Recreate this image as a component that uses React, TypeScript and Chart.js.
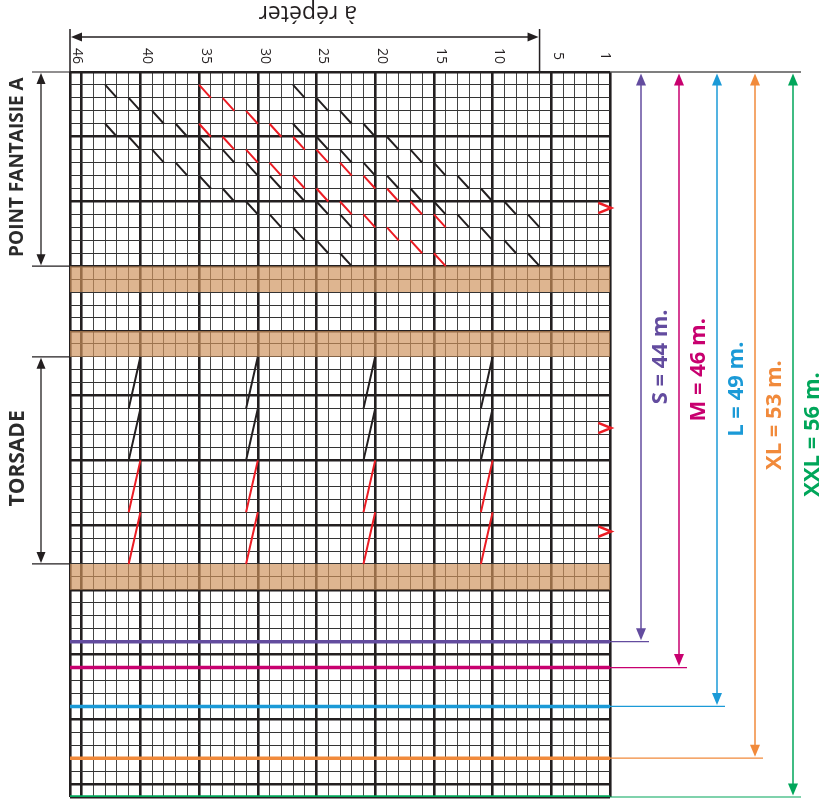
import React, { useEffect, useRef } from 'react';
import { Chart, registerables } from 'chart.js';

Chart.register(...registerables);

// ---------- data ----------
const STITCH_COUNT = 46;
const ROW_COUNT = 56;

const stitchTickLabels = [46, 40, 35, 30, 25, 20, 15, 10, 5, 1];
const repeatStitches = [46, 7];
const repeatLabel = 'à répéter';

const sectionLabels = ['POINT FANTAISIE A', 'TORSADE'];
const sectionStartRows = [0, 22];
const sectionEndRows = [15, 38];

const bandStartRows = [15, 20, 38];
const bandEndRows = [17, 22, 40];

// "\" marks of point fantaisie A : [stitch, row from top]
const blackDiagonals: [number, number][] = [
  [43, 1], [41, 2], [39, 3], [37, 4], [35, 5], [33, 6], [31, 7], [29, 8], [27, 9], [25, 10], [23, 11],
  [43, 4], [41, 5], [39, 6], [37, 7], [35, 8], [33, 9], [31, 10], [29, 11], [27, 12], [25, 13], [23, 14],
  [27, 1], [25, 2], [23, 3], [21, 4], [19, 5], [17, 6], [15, 7], [13, 8], [11, 9], [9, 10], [7, 11],
  [27, 4], [25, 5], [23, 6], [21, 7], [19, 8], [17, 9], [15, 10], [13, 11], [11, 12], [9, 13], [7, 14],
];
const redDiagonals: [number, number][] = [
  [35, 1], [33, 2], [31, 3], [29, 4], [27, 5], [25, 6], [23, 7], [21, 8], [19, 9], [17, 10], [15, 11],
  [35, 4], [33, 5], [31, 6], [29, 7], [27, 8], [25, 9], [23, 10], [21, 11], [19, 12], [17, 13], [15, 14],
];

// torsade "/" marks: stitches and [startRow, endRow]
const torsadeStitches = [41, 31, 21, 11];
const blackTorsadeRows: [number, number][] = [[22, 26], [26, 30]];
const redTorsadeRows: [number, number][] = [[30, 34], [34, 38]];

const chevronStitch = 1;
const chevronRows = [10, 27, 35];

const sizeNames = ['S', 'M', 'L', 'XL', 'XXL'];
const sizeRows = [44, 46, 49, 53, 56];
const sizeColors = ['#634c9f', '#c8006f', '#1b9ad7', '#f18a3b', '#00a65a'];

// ---------- styles ----------
const INK = '#231f20';
const RED = '#ec1c24';
const TAN = 'rgba(206,146,92,0.68)';

type Pt = { x: number; y: number | null };

function diagSegments(list: [number, number][]): Pt[] {
  const out: Pt[] = [];
  list.forEach(([s, r]) => {
    out.push({ x: s, y: r }, { x: s - 1, y: r + 1 }, { x: s - 1, y: null });
  });
  return out;
}

function torsadeSegments(rows: [number, number][]): Pt[] {
  const out: Pt[] = [];
  torsadeStitches.forEach((s) => {
    rows.forEach(([r0, r1]) => {
      out.push({ x: s, y: r1 }, { x: s - 1, y: r0 }, { x: s - 1, y: null });
    });
  });
  return out;
}

function chevronPoints(): Pt[] {
  const out: Pt[] = [];
  chevronRows.forEach((r) => {
    out.push(
      { x: chevronStitch, y: r + 0.1 },
      { x: chevronStitch - 1.1, y: r + 0.5 },
      { x: chevronStitch, y: r + 0.9 },
      { x: chevronStitch, y: null }
    );
  });
  return out;
}

function head(ctx: CanvasRenderingContext2D, x: number, y: number, dx: number, dy: number, len: number, half: number, color: string) {
  const bx = x - dx * len;
  const by = y - dy * len;
  ctx.beginPath();
  ctx.moveTo(x, y);
  ctx.lineTo(bx - dy * half, by + dx * half);
  ctx.lineTo(bx + dy * half, by - dx * half);
  ctx.closePath();
  ctx.fillStyle = color;
  ctx.fill();
}

const decorPlugin = {
  id: 'decor',
  afterDraw(chart: any) {
    const ctx: CanvasRenderingContext2D = chart.ctx;
    const xs = chart.scales.x;
    const ys = chart.scales.y;
    const px = (v: number) => xs.getPixelForValue(v);
    const py = (v: number) => ys.getPixelForValue(v);
    const left = px(STITCH_COUNT);
    const right = px(0);
    const top = py(0);

    ctx.save();

    // stitch numbers (rotated)
    ctx.fillStyle = INK;
    ctx.font = '14px "Open Sans"';
    ctx.textAlign = 'center';
    ctx.textBaseline = 'middle';
    stitchTickLabels.forEach((n) => {
      ctx.save();
      ctx.translate(px(n - 0.5) + 1, top - 16);
      ctx.rotate(Math.PI / 2);
      ctx.fillText(String(n), 0, 0);
      ctx.restore();
    });

    // à répéter
    const rx0 = px(repeatStitches[0]);
    const rx1 = px(repeatStitches[1] - 1);
    ctx.strokeStyle = INK;
    ctx.lineWidth = 1.5;
    ctx.beginPath();
    ctx.moveTo(rx0, top - 43);
    ctx.lineTo(rx0, top);
    ctx.moveTo(rx1, top - 43);
    ctx.lineTo(rx1, top);
    ctx.stroke();
    ctx.lineWidth = 1.3;
    ctx.beginPath();
    ctx.moveTo(rx0 + 6, top - 35);
    ctx.lineTo(rx1 - 6, top - 35);
    ctx.stroke();
    head(ctx, rx0 + 1, top - 35, -1, 0, 11, 4.5, INK);
    head(ctx, rx1 - 1, top - 35, 1, 0, 11, 4.5, INK);
    ctx.save();
    ctx.translate((rx0 + rx1) / 2 + 3, 13);
    ctx.rotate(Math.PI);
    ctx.font = '23px "Open Sans"';
    ctx.fillStyle = INK;
    ctx.fillText(repeatLabel, 0, 0);
    ctx.restore();

    // section brackets on the left
    sectionLabels.forEach((label, i) => {
      const y0 = py(sectionStartRows[i]);
      const y1 = py(sectionEndRows[i]);
      ctx.strokeStyle = INK;
      ctx.lineWidth = 1.2;
      ctx.beginPath();
      ctx.moveTo(32, y0);
      ctx.lineTo(left, y0);
      ctx.moveTo(32, y1);
      ctx.lineTo(left, y1);
      ctx.stroke();
      ctx.lineWidth = 1.3;
      ctx.beginPath();
      ctx.moveTo(41, y0 + 6);
      ctx.lineTo(41, y1 - 6);
      ctx.stroke();
      head(ctx, 41, y0 + 1, 0, -1, 11, 4.5, INK);
      head(ctx, 41, y1 - 1, 0, 1, 11, 4.5, INK);
      ctx.save();
      ctx.translate(18, (y0 + y1) / 2 - 2);
      ctx.rotate(-Math.PI / 2);
      ctx.font = i === 0 ? 'bold 19px "Open Sans"' : 'bold 21px "Open Sans"';
      ctx.fillStyle = '#2b2b2b';
      ctx.fillText(label, 0, 0);
      ctx.restore();
    });

    // size arrows on the right
    ctx.strokeStyle = '#555';
    ctx.lineWidth = 1.6;
    ctx.beginPath();
    ctx.moveTo(right, top);
    ctx.lineTo(801, top);
    ctx.stroke();
    sizeNames.forEach((name, i) => {
      const color = sizeColors[i];
      const ax = right + 31 + 38 * i;
      const yr = py(sizeRows[i]);
      ctx.strokeStyle = color;
      ctx.lineWidth = 1.2;
      ctx.beginPath();
      ctx.moveTo(right, yr);
      ctx.lineTo(ax + 8, yr);
      ctx.stroke();
      ctx.lineWidth = 1.5;
      ctx.beginPath();
      ctx.moveTo(ax, top + 8);
      ctx.lineTo(ax, yr - 8);
      ctx.stroke();
      head(ctx, ax, top + 1.5, 0, -1, 12, 5, color);
      head(ctx, ax, yr - 1.5, 0, 1, 12, 5, color);
      ctx.save();
      ctx.translate(ax + 20, (top + yr) / 2);
      ctx.rotate(-Math.PI / 2);
      ctx.font = 'bold 22px "Open Sans"';
      ctx.fillStyle = color;
      ctx.fillText(`${name} = ${sizeRows[i]} m.`, 0, 0);
      ctx.restore();
    });

    ctx.restore();
  },
};

export default function App() {
  const ref = useRef<HTMLCanvasElement | null>(null);

  useEffect(() => {
    if (!ref.current) return;
    const datasets: any[] = [];

    sizeRows.forEach((r, i) => {
      datasets.push({
        data: [{ x: 0, y: r }, { x: STITCH_COUNT, y: r }],
        borderColor: sizeColors[i],
        borderWidth: 3.5,
        pointRadius: 0,
        order: 0,
      });
    });

    datasets.push({ data: diagSegments(blackDiagonals), borderColor: INK, borderWidth: 2, pointRadius: 0, order: 1 });
    datasets.push({ data: diagSegments(redDiagonals), borderColor: RED, borderWidth: 2, pointRadius: 0, order: 1 });
    datasets.push({ data: torsadeSegments(blackTorsadeRows), borderColor: INK, borderWidth: 2, pointRadius: 0, order: 1 });
    datasets.push({ data: torsadeSegments(redTorsadeRows), borderColor: RED, borderWidth: 2, pointRadius: 0, order: 1 });
    datasets.push({
      data: chevronPoints(),
      borderColor: RED,
      borderWidth: 2.5,
      borderJoinStyle: 'miter',
      pointRadius: 0,
      clip: false,
      order: 1,
    });

    bandStartRows.forEach((r0, i) => {
      datasets.push({
        data: [{ x: 0, y: r0 }, { x: STITCH_COUNT, y: r0 }],
        borderWidth: 0,
        borderColor: 'rgba(0,0,0,0)',
        pointRadius: 0,
        fill: false,
        order: 5,
      });
      datasets.push({
        data: [{ x: 0, y: bandEndRows[i] }, { x: STITCH_COUNT, y: bandEndRows[i] }],
        borderWidth: 0,
        borderColor: 'rgba(0,0,0,0)',
        backgroundColor: TAN,
        pointRadius: 0,
        fill: '-1',
        order: 5,
      });
    });

    const isThickX = (v: number) => v % 5 === 0 || v === STITCH_COUNT;
    const isThickY = (v: number) => v % 5 === 0 || v === ROW_COUNT;

    const chart = new Chart(ref.current, {
      type: 'line',
      data: { datasets },
      plugins: [decorPlugin],
      options: {
        responsive: false,
        animation: false,
        events: [],
        layout: { padding: { left: 70, right: 215, top: 72, bottom: 4 } },
        plugins: { legend: { display: false }, tooltip: { enabled: false } },
        elements: { line: { tension: 0 } },
        scales: {
          x: {
            type: 'linear',
            min: 0,
            max: STITCH_COUNT,
            reverse: true,
            position: 'bottom',
            ticks: { display: false, stepSize: 1 },
            afterBuildTicks: (s: any) => {
              s.ticks = Array.from({ length: STITCH_COUNT + 1 }, (_, i) => ({ value: i }));
            },
            afterFit: (s: any) => {
              s.height = 0;
            },
            border: { display: false },
            grid: {
              drawTicks: false,
              color: (c: any) => (c.tick && isThickX(c.tick.value) ? INK : '#444'),
              lineWidth: (c: any) => (c.tick && isThickX(c.tick.value) ? 2.6 : 1),
            },
          },
          y: {
            type: 'linear',
            min: 0,
            max: ROW_COUNT,
            reverse: true,
            position: 'left',
            ticks: { display: false, stepSize: 1 },
            afterBuildTicks: (s: any) => {
              s.ticks = Array.from({ length: ROW_COUNT + 1 }, (_, i) => ({ value: i }));
            },
            afterFit: (s: any) => {
              s.width = 0;
            },
            border: { display: false },
            grid: {
              drawTicks: false,
              color: (c: any) => (c.tick && isThickY(c.tick.value) ? INK : '#333'),
              lineWidth: (c: any) => (c.tick && isThickY(c.tick.value) ? 2.6 : 1),
            },
          },
        },
      } as any,
    });
    return () => chart.destroy();
  }, []);

  return (
    <div style={{ position: 'fixed', left: 0, top: 0, width: 825, height: 801, background: '#fff' }}>
      <canvas ref={ref} width={825} height={801} style={{ display: 'block', width: 825, height: 801 }} />
    </div>
  );
}
